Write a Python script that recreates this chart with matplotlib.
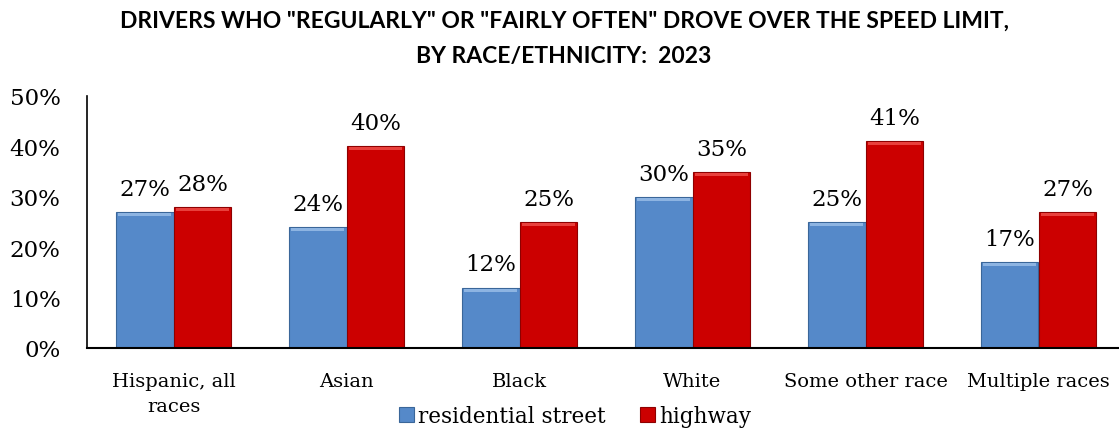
import numpy as np
import matplotlib.pyplot as plt

# data
categories = ["Hispanic, all\nraces", "Asian", "Black", "White", "Some other race", "Multiple races"]
residential = [27, 24, 12, 30, 25, 17]
highway = [28, 40, 25, 35, 41, 27]
series_names = ["residential street", "highway"]

SERIF = ["DejaVu Serif"]
blue, blue_edge = "#5589C9", "#3A6699"
red, red_edge = "#CC0000", "#8E0000"

fig = plt.figure(figsize=(11.19, 4.31), dpi=100)
ax = fig.add_axes([87 / 1119, 82 / 431, 1038 / 1119, 252 / 431])

x = np.arange(len(categories))
w = 0.335
b1 = ax.bar(x - w / 2, np.array(residential) / 100, w, color=blue, edgecolor=blue_edge,
            lw=0.8, label=series_names[0])
b2 = ax.bar(x + w / 2, np.array(highway) / 100, w, color=red, edgecolor=red_edge,
            lw=0.8, label=series_names[1])

# light band along the top of each bar, a hint of the bevel
for bars, hi in ((b1, "#8DB4E2"), (b2, "#E8403C")):
    for r in bars:
        ax.bar(r.get_x() + r.get_width() / 2, 0.006, r.get_width() * 0.92,
               bottom=r.get_height() - 0.008, color=hi, lw=0)

for bars, vals in ((b1, residential), (b2, highway)):
    for r, v in zip(bars, vals):
        ax.text(r.get_x() + r.get_width() / 2, r.get_height() + 0.024, f"{v}%",
                ha="center", va="bottom", fontsize=16.5, family=SERIF)

ax.set_xlim(-0.5, len(categories) - 0.5)
ax.set_ylim(0, 0.5)
ax.set_yticks(np.arange(0, 0.51, 0.1))
ax.set_yticklabels([f"{int(round(t * 100))}%" for t in np.arange(0, 0.51, 0.1)],
                   fontsize=16.5, family=SERIF)
ax.set_xticks(x)
ax.set_xticklabels(categories, fontsize=14, family=SERIF, linespacing=1.5)
ax.tick_params(axis="both", length=0)
ax.tick_params(axis="x", pad=17)
ax.tick_params(axis="y", pad=19)
for s in ("top", "right"):
    ax.spines[s].set_visible(False)
ax.spines["left"].set_linewidth(1.2)
ax.spines["bottom"].set_linewidth(1.5)

fig.text(564 / 1119, 1 - 21 / 431, 'DRIVERS WHO "REGULARLY" OR "FAIRLY OFTEN" DROVE OVER THE SPEED LIMIT,',
         ha="center", va="center", fontsize=16.5, fontweight="bold", family=["Lato", "DejaVu Sans"])
fig.text(564 / 1119, 1 - 56 / 431, "BY RACE/ETHNICITY:  2023",
         ha="center", va="center", fontsize=16.5, fontweight="bold", family=["Lato", "DejaVu Sans"])

leg = fig.legend(handles=[b1, b2], labels=series_names, loc="center",
                 bbox_to_anchor=(575 / 1119, 1 - 417 / 431), ncol=2, frameon=False,
                 prop={"family": SERIF, "size": 15.5}, handlelength=0.7, handleheight=0.7,
                 handletextpad=0.2, columnspacing=1.6, borderpad=0)

fig.savefig("out.png", dpi=100)
